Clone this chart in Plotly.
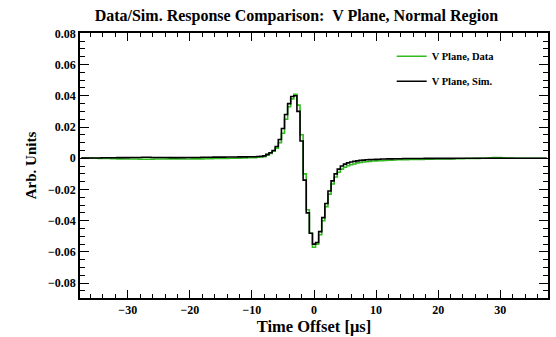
import numpy as np
import plotly.graph_objects as go

# bin centres (0.5 us bins)
time_us = np.arange(-37.5, 37.51, 0.5)

sim_left = [0.0001, 0.0001, 0.0002, 0.0002, 0.0002, 0.0002, 0.0002, 0.0003, 0.0003, 0.0003,
            0.0003, 0.0003, 0.0004, 0.0004, 0.0004, 0.0004, 0.0005, 0.0005, 0.0005, 0.0005,
            0.0006, 0.0006, 0.0006, 0.0005, 0.0005, 0.0005, 0.0005, 0.0005, 0.0005, 0.0004,
            0.0004, 0.0004, 0.0004, 0.0004, 0.0005, 0.0005, 0.0005, 0.0005, 0.0005, 0.0006,
            0.0006, 0.0006, 0.0006, 0.0007, 0.0007, 0.0007, 0.0007, 0.0008, 0.0008, 0.0008,
            0.0008, 0.0009, 0.0009, 0.0009, 0.001, 0.001, 0.001, 0.0011, 0.0012]
sim_pulse = [0.0015, 0.0025, 0.0035, 0.005, 0.0075, 0.012, 0.019, 0.028, 0.035, 0.0395,
             0.040, 0.030, 0.011, -0.014, -0.035, -0.048,
             -0.055, -0.054, -0.047, -0.038, -0.029, -0.021, -0.0145, -0.010, -0.007, -0.005,
             -0.0038, -0.003, -0.0024, -0.002, -0.0017, -0.0014, -0.0012, -0.001, -0.0009, -0.0008,
             -0.0007, -0.0006, -0.0005, -0.0005, -0.0004, -0.0004, -0.0003, -0.0003, -0.0003, -0.0002,
             -0.0002]
sim_right = [-0.0002, -0.0002, -0.0002, -0.0002, -0.0002, -0.0001, -0.0001, -0.0001, -0.0001, -0.0001,
             -0.0001, -0.0001, -0.0001, -0.0001, -0.0001, 0.0, 0.0, 0.0, 0.0, 0.0,
             0.0, 0.0, 0.0, 0.0, 0.0, 0.0, 0.0, 0.0, 0.0, 0.0,
             0.0, 0.0, 0.0, 0.0, 0.0, 0.0, 0.0, 0.0, 0.0, 0.0,
             0.0, 0.0, 0.0, 0.0, 0.0]

data_left = [0.0001, 0.0001, 0.0001, 0.0001, 0.0, 0.0, -0.0001, -0.0001, -0.0002, -0.0002,
             -0.0003, -0.0003, -0.0004, -0.0004, -0.0005, -0.0005, -0.0005, -0.0005, -0.0005, -0.0006,
             -0.0006, -0.0006, -0.0006, -0.0006, -0.0005, -0.0005, -0.0005, -0.0005, -0.0004, -0.0004,
             -0.0004, -0.0004, -0.0005, -0.0005, -0.0005, -0.0005, -0.0004, -0.0004, -0.0004, -0.0004,
             -0.0003, -0.0003, -0.0003, -0.0002, -0.0002, -0.0002, -0.0001, -0.0001, 0.0, 0.0,
             0.0001, 0.0001, 0.0002, 0.0002, 0.0003, 0.0003, 0.0004, 0.0006, 0.0008]
data_pulse = [0.001, 0.002, 0.003, 0.0045, 0.0065, 0.010, 0.016, 0.025, 0.033, 0.038,
              0.041, 0.034, 0.015, -0.010, -0.033, -0.048,
              -0.057, -0.055, -0.049, -0.040, -0.031, -0.023, -0.0165, -0.012, -0.009, -0.007,
              -0.0058, -0.0048, -0.0042, -0.0037, -0.003, -0.0027, -0.0024, -0.0022, -0.002, -0.0018,
              -0.0017, -0.0016, -0.0015, -0.0014, -0.0013, -0.0012, -0.0011, -0.001, -0.001, -0.0009,
              -0.0009]
data_right = [-0.0008, -0.0008, -0.0007, -0.0007, -0.0007, -0.0006, -0.0006, -0.0006, -0.0005, -0.0005,
              -0.0005, -0.0004, -0.0004, -0.0004, -0.0003, -0.0003, -0.0003, -0.0003, -0.0002, -0.0002,
              -0.0002, -0.0001, -0.0001, 0.0, 0.0, 0.0002, 0.0003, 0.0004, 0.0004, 0.0004,
              0.0003, 0.0002, 0.0001, 0.0001, 0.0, 0.0, 0.0, 0.0, 0.0, 0.0,
              0.0, 0.0, 0.0, 0.0, 0.0]

sim_values = sim_left + sim_pulse + sim_right
data_values = data_left + data_pulse + data_right

FONT = "Liberation Serif"

fig = go.Figure()
fig.add_trace(go.Scatter(x=time_us, y=data_values, mode="lines", line_shape="hvh", legendgroup="d",
                         line=dict(color="#33bb22", width=1.6), name="<b>V Plane, Data</b>"))
fig.add_trace(go.Scatter(x=time_us, y=sim_values, mode="lines", line_shape="hvh", legendgroup="s",
                         line=dict(color="black", width=1.6), name="<b>V Plane, Sim.</b>"))

axis_common = dict(showgrid=False, zeroline=False, showline=True, linecolor="black", linewidth=1.5,
                   mirror="allticks", ticks="inside", tickcolor="black", tickwidth=1,
                   tickfont=dict(family=FONT, size=12, color="black", weight="bold"))

fig.update_xaxes(range=[-37.7, 37.7], dtick=10, tick0=0, ticklen=8,
                 minor=dict(dtick=2, ticklen=4, ticks="inside", tickcolor="black"),
                 title=dict(text="<b>Time Offset [μs]</b>", font=dict(family=FONT, size=16.5, color="black"),
                            standoff=2),
                 **axis_common)
fig.update_yaxes(range=[-0.0895, 0.0802], dtick=0.02, tick0=0, ticklen=9,
                 minor=dict(dtick=0.005, ticklen=5, ticks="inside", tickcolor="black"),
                 title=dict(text="<b>Arb. Units</b>", font=dict(family=FONT, size=15, color="black"),
                            standoff=8),
                 **axis_common)

fig.update_layout(
    width=556, height=337,
    margin=dict(l=80, r=6, t=33, b=35),
    plot_bgcolor="white", paper_bgcolor="white",
    title=dict(text="<b>Data/Sim. Response Comparison:  V Plane, Normal Region</b>",
               font=dict(family=FONT, size=16, color="black"),
               x=0.533, xanchor="center", y=0.955, yanchor="middle"),
    legend=dict(x=0.666, y=0.967, xanchor="left", yanchor="top", bgcolor="rgba(0,0,0,0)",
                font=dict(family=FONT, size=10.5, color="black"), tracegroupgap=6,
                itemwidth=30),
    showlegend=True,
)

fig.write_html("out.html")
